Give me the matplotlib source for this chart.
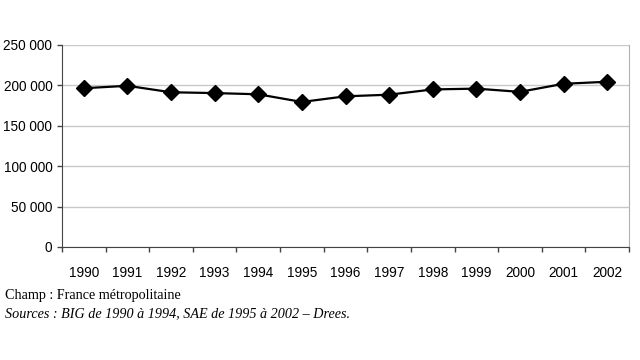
import matplotlib
matplotlib.use("Agg")
import matplotlib.pyplot as plt
from matplotlib.ticker import FuncFormatter

years = ["1990", "1991", "1992", "1993", "1994", "1995", "1996",
         "1997", "1998", "1999", "2000", "2001", "2002"]
values = [196500, 199500, 191500, 190500, 189000, 179500, 186500,
          188500, 195000, 196000, 192000, 202000, 204500]
yticks = [0, 50000, 100000, 150000, 200000, 250000]

fig = plt.figure(figsize=(6.4, 3.6), dpi=100)
ax = fig.add_axes([62/640, 1 - 247/360, (629-62)/640, (247-45)/360])

x = list(range(len(years)))
ax.plot(x, values, color="black", lw=1.6, marker="D", markersize=8,
        markerfacecolor="black", markeredgecolor="black", zorder=3)

ax.set_xlim(-0.5, len(years) - 0.5)
ax.set_ylim(0, 250000)
ax.set_yticks(yticks)
ax.yaxis.set_major_formatter(FuncFormatter(lambda v, p: f"{int(v):,}".replace(",", " ")))
ax.set_xticks(x)
ax.set_xticklabels(years)
ax.set_xticks([i - 0.5 for i in range(len(years) + 1)], minor=True)
ax.tick_params(axis="x", which="major", length=0, pad=14)
ax.tick_params(axis="x", which="minor", length=3.5, color="#444444", width=1)
ax.tick_params(axis="y", length=3.5, color="#444444", width=1, pad=3.5)
for lab in ax.get_xticklabels() + ax.get_yticklabels():
    lab.set_fontfamily("Liberation Sans")
    lab.set_fontsize(9.8)

ax.grid(axis="y", color="#c8c8c8", lw=1)
ax.set_axisbelow(True)
ax.spines["top"].set_visible(False)
ax.spines["right"].set_color("#b0b0b0")
ax.spines["left"].set_color("#444444")
ax.spines["bottom"].set_color("#444444")

fig.text(5/640, 1 - 296/360, "Champ : France métropolitaine",
         fontfamily="Liberation Serif", fontsize=10.2, va="center", ha="left")
fig.text(5/640, 1 - 314/360, "Sources : BIG de 1990 à 1994, SAE de 1995 à 2002 – Drees.",
         fontfamily="Liberation Serif", fontsize=10.2, style="italic", va="center", ha="left")

fig.savefig("out.png", dpi=100)
